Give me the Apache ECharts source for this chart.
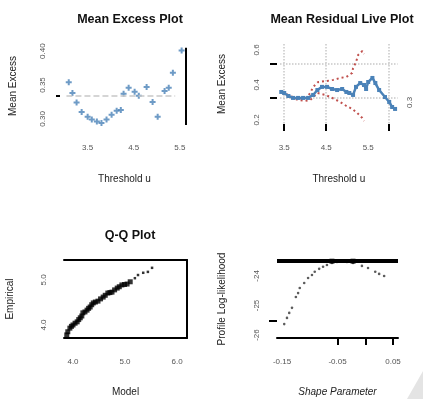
<!DOCTYPE html>
<html>
<head>
<meta charset="utf-8">
<script src="https://cdn.jsdelivr.net/npm/echarts@6/dist/echarts.min.js"></script>
<style>
  html, body { margin: 0; padding: 0; background: #fff; }
  #chart { width: 423px; height: 399px; }
</style>
</head>
<body>
<div id="chart"></div>
<script>
// ---- Mean excess plot ----
const meThreshold = [3.09, 3.17, 3.26, 3.37, 3.50, 3.59, 3.70, 3.80, 3.91, 4.02, 4.13, 4.22, 4.28, 4.39, 4.52, 4.61, 4.78, 4.91, 5.02, 5.17, 5.26, 5.35, 5.54];
const meExcess    = [0.354, 0.338, 0.324, 0.310, 0.303, 0.299, 0.296, 0.294, 0.299, 0.306, 0.312, 0.313, 0.337, 0.346, 0.340, 0.334, 0.347, 0.325, 0.303, 0.341, 0.346, 0.368, 0.401];
const meReference = 0.334;
const meMaxThreshold = 5.63;
const meTicksX = [3.5, 4.5, 5.5];
const meTicksY = [0.30, 0.35, 0.40];

// ---- Mean residual life plot ----
const mrlThreshold = [3.43, 3.50, 3.60, 3.71, 3.83, 3.95, 4.07, 4.19, 4.29, 4.40, 4.52, 4.64, 4.76, 4.88, 4.98, 5.05, 5.14, 5.21, 5.31, 5.40, 5.45, 5.50, 5.60, 5.67, 5.76, 5.90, 6.00, 6.07, 6.14];
const mrlMean      = [0.360, 0.354, 0.337, 0.326, 0.326, 0.326, 0.326, 0.343, 0.371, 0.389, 0.389, 0.377, 0.371, 0.377, 0.360, 0.354, 0.343, 0.389, 0.411, 0.400, 0.377, 0.417, 0.440, 0.411, 0.371, 0.331, 0.303, 0.274, 0.263];
const mrlUpperX = [3.45, 3.64, 3.83, 4.00, 4.12, 4.19, 4.31, 4.52, 4.67, 4.83, 4.98, 5.12, 5.14, 5.21, 5.26, 5.36, 5.40];
const mrlUpperY = [0.360, 0.337, 0.320, 0.320, 0.354, 0.389, 0.417, 0.423, 0.429, 0.440, 0.446, 0.469, 0.497, 0.531, 0.571, 0.594, 0.577];
const mrlLowerX = [3.45, 3.64, 3.83, 4.00, 4.12, 4.29, 4.48, 4.60, 4.83, 4.98, 5.12, 5.24, 5.36, 5.40];
const mrlLowerY = [0.354, 0.331, 0.314, 0.309, 0.314, 0.354, 0.343, 0.331, 0.303, 0.280, 0.263, 0.240, 0.211, 0.194];
const mrlTicksX = [3.5, 4.5, 6.0];
const mrlLabelsX = [3.5, 4.5, 5.5];
const mrlTicksY = [0.326, 0.52];
const mrlLabelsY = [0.2, 0.4, 0.6];
const mrlLabelsRight = [0.3];

// ---- Q-Q plot ----
const qqModel     = [3.88, 3.90, 3.94, 3.97, 4.00, 4.04, 4.08, 4.11, 4.14, 4.17, 4.19, 4.23, 4.27, 4.30, 4.33, 4.36, 4.39, 4.43, 4.48, 4.53, 4.58, 4.62, 4.67, 4.71, 4.75, 4.80, 4.85, 4.89, 4.94, 4.99, 5.04, 5.10, 5.19, 5.25, 5.35, 5.44, 5.52];
const qqEmpirical = [3.78, 3.85, 3.93, 3.97, 4.00, 4.04, 4.07, 4.12, 4.16, 4.20, 4.27, 4.29, 4.33, 4.37, 4.40, 4.45, 4.49, 4.51, 4.53, 4.58, 4.62, 4.66, 4.71, 4.72, 4.73, 4.78, 4.82, 4.85, 4.89, 4.90, 4.91, 4.96, 5.04, 5.11, 5.16, 5.18, 5.27];
const qqLabels = [4.0, 5.0, 6.0];
const qqLabelsY = [4.0, 5.0];

// ---- Profile log-likelihood ----
const plShape = [-0.146, -0.141, -0.137, -0.132, -0.125, -0.121, -0.118, -0.110, -0.103, -0.096, -0.091, -0.083, -0.076, -0.069, -0.060, -0.051, -0.042, -0.033, -0.022, -0.006, 0.005, 0.018, 0.025, 0.034];
const plLogLik = [-25.63, -25.42, -25.25, -25.08, -24.71, -24.58, -24.41, -24.24, -24.07, -23.97, -23.86, -23.76, -23.69, -23.63, -23.56, -23.53, -23.51, -23.53, -23.56, -23.66, -23.73, -23.86, -23.93, -24.00];
const plCutoff = -23.50;
const plBoundsX = [-0.060, -0.022];
const plTicksX = [-0.05, 0.0, 0.05];
const plLabelsX = [-0.15, -0.05, 0.05];
const plTicksY = [-25.5];
const plLabelsY = [-26, -25, -24];

const zip = (xs, ys) => xs.map((x, i) => [x, ys[i]]);

const FONT = 'Liberation Sans, Arial, sans-serif';
const tickFont = { fontSize: 8, color: '#555', fontFamily: FONT };
const nameFont = { fontSize: 10, color: '#222', fontFamily: FONT };
const BLUE = '#4a82b8';
const RED = '#c0504d';
const plus = 'path://M2,0H4V2H6V4H4V6H2V4H0V2H2Z';

function noAxis() {
  return { axisLine: { show: false, onZero: false }, axisTick: { show: false }, splitLine: { show: false } };
}

const chart = echarts.init(document.getElementById('chart'), null, { renderer: 'canvas' });

chart.setOption({
  animation: false,
  backgroundColor: '#fff',
  title: [
    { text: 'Mean Excess Plot', left: 125, top: 8, textAlign: 'center',
      textStyle: { fontSize: 12.5, fontWeight: 'bold', color: '#111', fontFamily: FONT } },
    { text: 'Mean Residual Live Plot', left: 337, top: 8, textAlign: 'center',
      textStyle: { fontSize: 12.5, fontWeight: 'bold', color: '#111', fontFamily: FONT } },
    { text: 'Q-Q Plot', left: 125, top: 224, textAlign: 'center',
      textStyle: { fontSize: 12.5, fontWeight: 'bold', color: '#111', fontFamily: FONT } }
  ],
  grid: [
    { left: 60, top: 45, width: 129, height: 82, containLabel: false, outerBoundsMode: 'none' },
    { left: 280, top: 44, width: 117.6, height: 80, containLabel: false, outerBoundsMode: 'none' },
    { left: 64, top: 260, width: 123, height: 78, containLabel: false, outerBoundsMode: 'none' },
    { left: 277, top: 260, width: 121, height: 78, containLabel: false, outerBoundsMode: 'none' }
  ],
  xAxis: [
    Object.assign(noAxis(), {
      gridIndex: 0, type: 'value', min: 2.9, max: 5.7,
      name: 'Threshold u', nameLocation: 'middle', nameGap: 47, nameTextStyle: nameFont,
      axisLabel: Object.assign({ customValues: meTicksX, margin: 17, formatter: v => v.toFixed(1) }, tickFont)
    }),
    {
      gridIndex: 1, type: 'value', min: 3.4, max: 6.2,
      name: 'Threshold u', nameLocation: 'middle', nameGap: 50, nameTextStyle: nameFont,
      axisLine: { show: false, onZero: false },
      axisTick: { show: true, customValues: mrlTicksX, length: 7, lineStyle: { color: '#000', width: 2 } },
      splitLine: { show: true, lineStyle: { color: '#c8c8c8', type: 'dotted', width: 1.5 } },
      axisLabel: Object.assign({ customValues: mrlLabelsX, margin: 20, formatter: v => v.toFixed(1) }, tickFont)
    },
    {
      gridIndex: 2, type: 'value', min: 3.827, max: 6.192,
      name: 'Model', nameLocation: 'middle', nameGap: 49, nameTextStyle: nameFont,
      axisLine: { show: true, onZero: false, lineStyle: { color: '#000', width: 2 } },
      axisTick: { show: false }, splitLine: { show: false },
      axisLabel: Object.assign({ customValues: qqLabels, margin: 20, formatter: v => v.toFixed(1) }, tickFont)
    },
    {
      gridIndex: 2, type: 'value', position: 'top', min: 3.827, max: 6.192,
      axisLine: { show: true, onZero: false, lineStyle: { color: '#000', width: 2 } },
      axisTick: { show: false }, splitLine: { show: false }, axisLabel: { show: false }
    },
    {
      gridIndex: 3, type: 'value', min: -0.159, max: 0.059,
      name: 'Shape Parameter', nameLocation: 'middle', nameGap: 49,
      nameTextStyle: Object.assign({}, nameFont, { fontStyle: 'italic' }),
      axisLine: { show: true, onZero: false, lineStyle: { color: '#000', width: 2 } },
      axisTick: { show: true, customValues: plTicksX, length: 7, lineStyle: { color: '#000', width: 2 } },
      splitLine: { show: false },
      axisLabel: Object.assign({ customValues: plLabelsX, margin: 20, formatter: v => v.toFixed(2) }, tickFont)
    }
  ],
  yAxis: [
    {
      gridIndex: 0, type: 'value', min: 0.288, max: 0.409,
      name: 'Mean Excess', nameLocation: 'middle', nameGap: 42, nameRotate: 90, nameTextStyle: nameFont,
      axisLine: { show: false, onZero: false }, splitLine: { show: false },
      axisTick: { show: true, customValues: [meReference], length: 4, lineStyle: { color: '#000', width: 2 } },
      axisLabel: Object.assign({ customValues: meTicksY, rotate: 90, margin: 13, formatter: v => v.toFixed(2) }, tickFont)
    },
    {
      gridIndex: 1, type: 'value', min: 0.177, max: 0.634, offset: 3,
      name: 'Mean Excess', nameLocation: 'middle', nameGap: 50, nameRotate: 90, nameTextStyle: nameFont,
      axisLine: { show: false, onZero: false },
      axisTick: { show: true, customValues: mrlTicksY, length: 7, lineStyle: { color: '#000', width: 2 } },
      splitLine: { show: true, lineStyle: { color: '#c8c8c8', type: 'dotted', width: 1.5 } },
      axisLabel: Object.assign({ customValues: mrlLabelsY, rotate: 90, margin: 16, formatter: v => v.toFixed(1) }, tickFont)
    },
    Object.assign(noAxis(), {
      gridIndex: 1, type: 'value', position: 'right', min: 0.177, max: 0.634,
      axisLabel: Object.assign({ customValues: mrlLabelsRight, rotate: 90, margin: 8, formatter: v => v.toFixed(1) }, tickFont)
    }),
    {
      gridIndex: 2, type: 'value', min: 3.711, max: 5.444,
      name: 'Empirical', nameLocation: 'middle', nameGap: 49, nameRotate: 90, nameTextStyle: nameFont,
      axisLine: { show: false, onZero: false }, axisTick: { show: false }, splitLine: { show: false },
      axisLabel: Object.assign({ customValues: qqLabelsY, rotate: 90, margin: 16, formatter: v => v.toFixed(1) }, tickFont)
    },
    {
      gridIndex: 2, type: 'value', position: 'right', min: 3.711, max: 5.444,
      axisLine: { show: true, onZero: false, lineStyle: { color: '#000', width: 2 } },
      axisTick: { show: false }, splitLine: { show: false }, axisLabel: { show: false }
    },
    {
      gridIndex: 3, type: 'value', min: -26.1, max: -23.46,
      name: 'Profile Log-likelihood', nameLocation: 'middle', nameGap: 50, nameRotate: 90, nameTextStyle: nameFont,
      axisLine: { show: false, onZero: false }, splitLine: { show: false },
      axisTick: { show: true, customValues: plTicksY, length: 8, lineStyle: { color: '#000', width: 2 } },
      axisLabel: Object.assign({ customValues: plLabelsY, rotate: 90, margin: 16, formatter: v => String(v) }, tickFont)
    }
  ],
  series: [
    {
      type: 'scatter', xAxisIndex: 0, yAxisIndex: 0,
      data: zip(meThreshold, meExcess),
      symbol: plus, symbolSize: 6, itemStyle: { color: BLUE },
      markLine: {
        silent: true, symbol: 'none', label: { show: false },
        data: [
          [{ coord: [meThreshold[0] - 0.05, meReference] }, { coord: [5.40, meReference] }]
        ],
        lineStyle: { color: '#c8c8c8', type: 'dashed', width: 1.5 }
      }
    },
    {
      // vertical marker at the largest threshold
      type: 'line', xAxisIndex: 0, yAxisIndex: 0, data: [],
      markLine: {
        silent: true, symbol: 'none', label: { show: false },
        data: [[{ coord: [meMaxThreshold, 0.291] }, { coord: [meMaxThreshold, 0.405] }]],
        lineStyle: { color: '#000', type: 'solid', width: 2 }
      }
    },
    {
      type: 'line', xAxisIndex: 1, yAxisIndex: 1,
      data: zip(mrlUpperX, mrlUpperY), showSymbol: false,
      lineStyle: { color: RED, width: 2, type: [2, 3] }
    },
    {
      type: 'line', xAxisIndex: 1, yAxisIndex: 1,
      data: zip(mrlLowerX, mrlLowerY), showSymbol: false,
      lineStyle: { color: RED, width: 2, type: [2, 3] }
    },
    {
      type: 'line', xAxisIndex: 1, yAxisIndex: 1,
      data: zip(mrlThreshold, mrlMean),
      symbol: 'rect', symbolSize: 4, itemStyle: { color: BLUE },
      lineStyle: { color: BLUE, width: 2.5 }
    },
    {
      type: 'scatter', xAxisIndex: 2, yAxisIndex: 3,
      data: zip(qqModel, qqEmpirical),
      symbol: 'rect', symbolSize: p => (p[0] < 5.15 ? 5 : 2.5),
      itemStyle: { color: '#000' }
    },
    {
      type: 'scatter', xAxisIndex: 4, yAxisIndex: 5,
      data: zip(plShape, plLogLik),
      symbol: 'circle', symbolSize: 2.6, itemStyle: { color: '#333' },
      markLine: {
        silent: true, symbol: 'none', label: { show: false },
        data: [{ yAxis: plCutoff }],
        lineStyle: { color: '#000', type: 'solid', width: 4 }
      }
    },
    {
      type: 'scatter', xAxisIndex: 4, yAxisIndex: 5,
      data: plBoundsX.map(x => [x, plCutoff]),
      symbol: 'rect', symbolSize: 5, itemStyle: { color: '#000' }
    }
  ],
  graphic: [
    {
      type: 'polygon', silent: true,
      shape: { points: [[407, 399], [423, 371], [423, 399]] },
      style: { fill: '#e4e4e4' }
    }
  ]
});
</script>
</body>
</html>
